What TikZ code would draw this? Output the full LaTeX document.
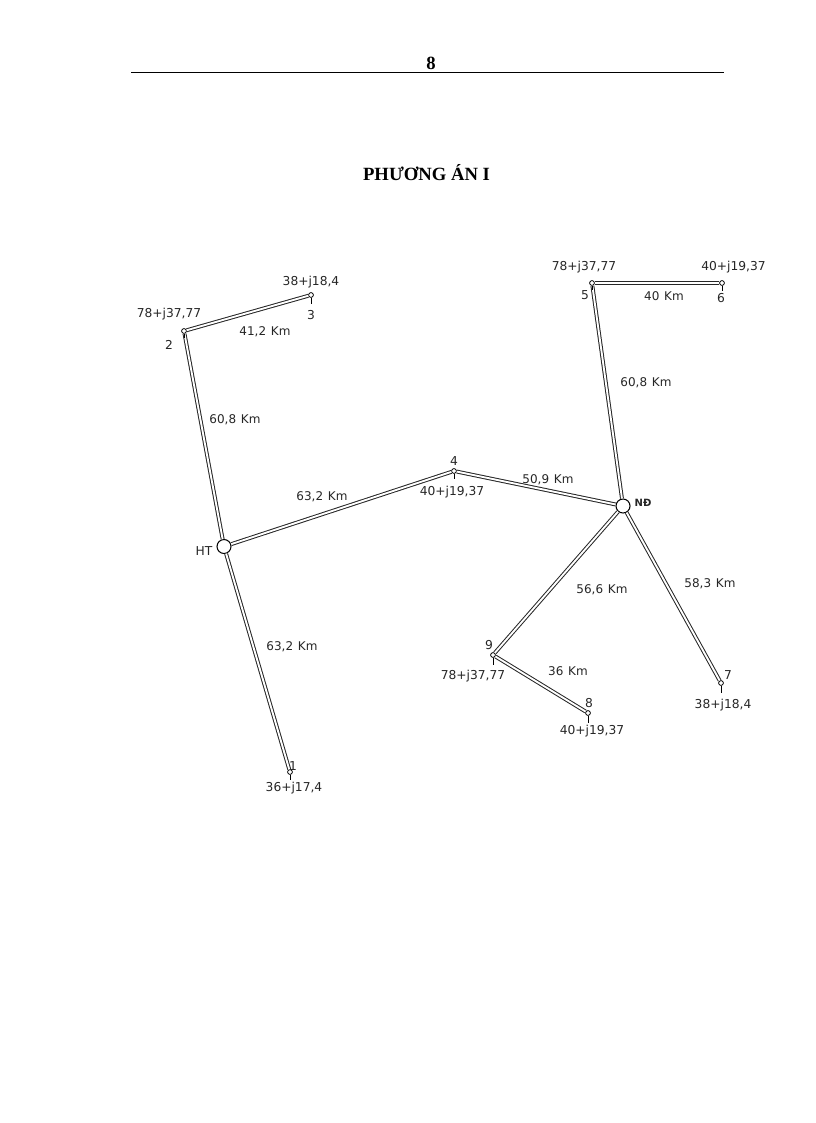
\documentclass[tikz,border=0pt]{standalone}
\usepackage{fontspec}
\setmainfont{Liberation Serif}
\newfontfamily\cadfont{DejaVu Sans}
\newcommand{\kmgap}{\hspace{0.4em}}
\begin{document}
\begin{tikzpicture}[x=0.75pt,y=-0.75pt,
  bus/.style={circle,draw=black,fill=white,line width=0.6pt,inner sep=0pt,minimum size=3.6pt},
  src/.style={circle,draw=black,fill=white,line width=0.8pt,inner sep=0pt,minimum size=10.5pt},
  line/.style={draw=black!85,line width=0.75pt,double=white,double distance=1.4pt},
  stub/.style={draw=black,line width=0.7pt},
  lab/.style={font=\cadfont\fontsize{9.2pt}{10pt}\selectfont,inner sep=0pt,text=black!85},
  dist/.style={font=\cadfont\fontsize{9pt}{10pt}\selectfont,inner sep=0pt,text=black!85},
  head/.style={font=\bfseries\fontsize{14pt}{15pt}\selectfont,inner sep=0pt,text=black}]
\useasboundingbox (0,0) rectangle (816,1123);
% header
\node[head] (pg) at (431,63) {8};
\coordinate (ruleL) at (131,72.5);
\coordinate (ruleR) at (724,72.5);
\draw[black,line width=0.9pt] (ruleL) -- (ruleR);
\node[head] (title) at (426.5,173) {PHƯƠNG ÁN I};
% nodes
\node[src] (HT) at (224,546.5) {};
\node[src] (ND) at (623,506) {};
\node[bus] (n1) at (290,772) {};
\node[bus] (n2) at (184,331) {};
\node[bus] (n3) at (311,295) {};
\node[bus] (n4) at (454,471) {};
\node[bus] (n5) at (592,283) {};
\node[bus] (n6) at (722,283) {};
\node[bus] (n7) at (721,683) {};
\node[bus] (n8) at (588,713) {};
\node[bus] (n9) at (493,655) {};
% lines
\draw[line] (HT) -- (n2);
\draw[line] (n2) -- (n3);
\draw[line] (HT) -- (n4);
\draw[line] (n4) -- (ND);
\draw[line] (HT) -- (n1);
\draw[line] (ND) -- (n5);
\draw[line] (n5) -- (n6);
\draw[line] (ND) -- (n9);
\draw[line] (n9) -- (n8);
\draw[line] (ND) -- (n7);
% stubs
\coordinate (s1) at (290,780);
\coordinate (s2) at (184,338);
\coordinate (s3) at (311,304);
\coordinate (s4) at (454,479);
\coordinate (s5) at (592,290);
\coordinate (s6) at (722,291);
\coordinate (s7) at (721,693);
\coordinate (s8) at (588,723);
\coordinate (s9) at (493,665);
\foreach \a/\b in {n1/s1,n2/s2,n3/s3,n4/s4,n5/s5,n6/s6,n7/s7,n8/s8,n9/s9}
  \draw[stub] (\a) -- (\b);
% labels
\node[lab] (lHT) at (204,551) {HT};
\node[lab,font=\cadfont\bfseries\fontsize{7.5pt}{9pt}\selectfont] (lND) at (643,503) {NĐ};
\node[lab] (t1) at (293,766) {1};
\node[lab] (t2) at (169,345) {2};
\node[lab] (t3) at (311,315) {3};
\node[lab] (t4) at (454,461) {4};
\node[lab] (t5) at (585,295) {5};
\node[lab] (t6) at (721,298) {6};
\node[lab] (t7) at (728,675) {7};
\node[lab] (t8) at (589,703) {8};
\node[lab] (t9) at (489,645) {9};
\node[lab] (p1) at (294,788) {36+j17,4};
\node[lab] (p2) at (169,314) {78+j37,77};
\node[lab] (p3) at (311,282) {38+j18,4};
\node[lab] (p4) at (452,492) {40+j19,37};
\node[lab] (p5) at (584,267) {78+j37,77};
\node[lab] (p6) at (733.5,267) {40+j19,37};
\node[lab] (p7) at (723,705) {38+j18,4};
\node[lab] (p8) at (592,731) {40+j19,37};
\node[lab] (p9) at (473,676) {78+j37,77};
\node[dist] (d1) at (235,420) {60,8\kmgap Km};
\node[dist] (d2) at (265,332) {41,2\kmgap Km};
\node[dist] (d3) at (322,497) {63,2\kmgap Km};
\node[dist] (d4) at (548,480) {50,9\kmgap Km};
\node[dist] (d5) at (646,383) {60,8\kmgap Km};
\node[dist] (d6) at (664,296) {40\kmgap Km};
\node[dist] (d7) at (292,647) {63,2\kmgap Km};
\node[dist] (d8) at (602,590) {56,6\kmgap Km};
\node[dist] (d9) at (710,584) {58,3\kmgap Km};
\node[dist] (d10) at (568,671) {36\kmgap Km};
\end{tikzpicture}
\end{document}
